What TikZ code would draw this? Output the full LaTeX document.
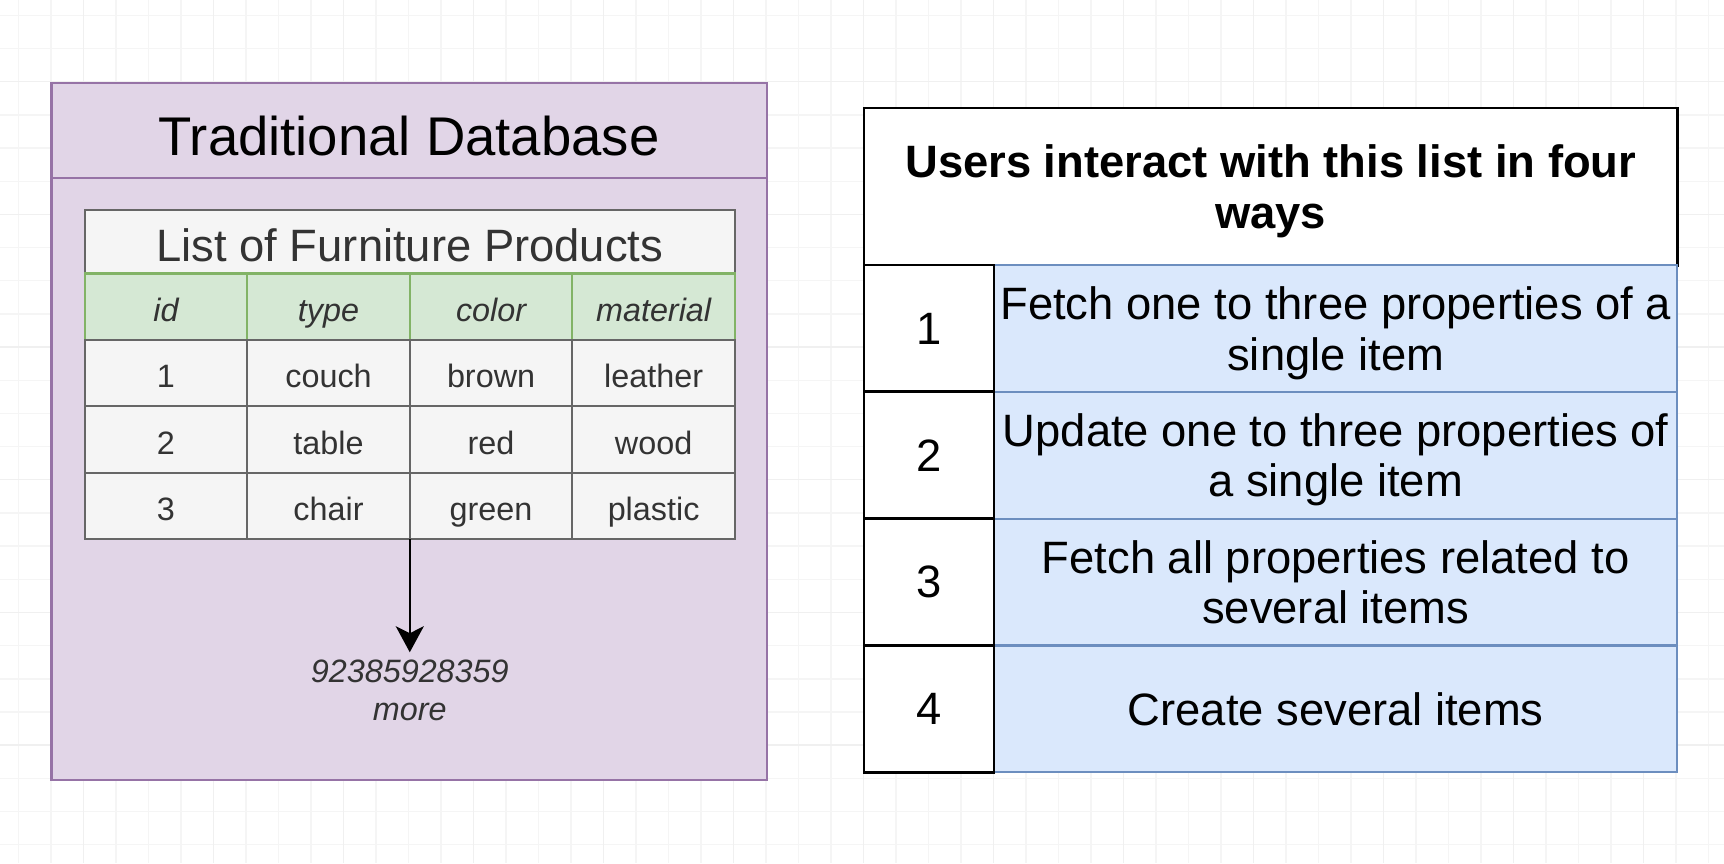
\documentclass[tikz,border=0pt]{standalone}
\usepackage{fontspec}
\setmainfont{Liberation Sans}
\usetikzlibrary{positioning,arrows.meta}
\definecolor{dbfill}{HTML}{E1D5E7}
\definecolor{dbstroke}{HTML}{9673A6}
\definecolor{cellfill}{HTML}{F5F5F5}
\definecolor{cellstroke}{HTML}{666666}
\definecolor{celltext}{HTML}{333333}
\definecolor{headfill}{HTML}{D5E8D4}
\definecolor{headstroke}{HTML}{82B366}
\definecolor{wayfill}{HTML}{DAE8FC}
\definecolor{waystroke}{HTML}{6C8EBF}
\newcommand{\cellfont}{\fontsize{9.2}{10.8}\selectfont}
\newcommand{\wayfont}{\fontsize{12.9}{14.3}\selectfont}
\newcommand{\dbfont}{\fontsize{15.5}{18}\selectfont}
\tikzset{lane/.style={draw=dbstroke,fill=dbfill,line width=0.6pt,
        minimum width=7.147cm,inner sep=0pt,outer sep=0pt},
  cell/.style={draw=cellstroke,fill=cellfill,text=celltext,line width=0.6pt,
        minimum width=1.6245cm,minimum height=0.665cm,inner sep=0pt,
        outer sep=0pt,font=\cellfont,text height=0.34cm,text depth=0.04cm},
  headcell/.style={cell,draw=headstroke,fill=headfill,
        font=\cellfont\itshape,minimum height=0.66cm},
  listcell/.style={cell,minimum width=6.498cm,minimum height=0.635cm,
        font=\wayfont,text height=0.39cm,text depth=0pt},
  numcell/.style={draw=black,fill=white,line width=0.8pt,minimum width=1.3cm,
        minimum height=1.2675cm,inner sep=0pt,outer sep=0pt,font=\wayfont},
  waycell/.style={draw=waystroke,fill=wayfill,line width=0.6pt,
        minimum width=6.83cm,minimum height=1.2675cm,inner sep=0pt,
        outer sep=0pt,font=\wayfont,align=center,text depth=0pt},
  waytitle/.style={numcell,minimum width=8.13cm,minimum height=1.57cm,
        font=\wayfont\bfseries,align=center,text depth=0pt},
  moretext/.style={font=\cellfont\itshape,text=celltext,align=center,
        inner sep=2pt},
  flow/.style={draw=black,line width=0.7pt,
        -{Stealth[length=0.26cm,width=0.28cm,inset=0.07cm]}},
  gridminor/.style={draw=black!4,line width=0.4pt},
  gridmajor/.style={draw=black!6,line width=0.4pt}}

\begin{document}
\begin{tikzpicture}[x=0.01cm,y=-0.01cm]
  \useasboundingbox (0,0) rectangle (1724,863);
  \fill[white] (0,0) rectangle (1724,863);
  %% canvas grid
  \foreach \gx in {0,...,52}
    \draw[gridminor] ({18.3+32.5*\gx},0) -- ++(0,863);
  \foreach \gy in {0,...,25}
    \draw[gridminor] (0,{15.4+33.17*\gy}) -- ++(1724,0);
  \foreach \gx in {2,6,...,50}
    \draw[gridmajor] ({18.3+32.5*\gx},0) -- ++(0,863);
  \foreach \gy in {2,6,...,22}
    \draw[gridmajor] (0,{15.4+33.17*\gy}) -- ++(1724,0);

  %% traditional database container
  \node[lane,minimum height=0.947cm,font=\dbfont,text height=0.5cm,
        text depth=0pt] (dbtitle) at (409.05,130.65) {Traditional Database};
  \node[lane,minimum height=6.016cm,below=0pt of dbtitle] (dbbody) {};

  %% furniture table
  \node[listcell,anchor=north west] (list) at (84.7,210)
       {List of Furniture Products};
  \node[headcell,anchor=north west] (hid) at (list.south west) {id};
  \node[headcell,right=0pt of hid] (htype) {type};
  \node[headcell,right=0pt of htype] (hcolor) {color};
  \node[headcell,right=0pt of hcolor] (hmat) {material};
  %% rows
  \node[cell,below=0pt of hid] (r1c1) {1};
  \node[cell,right=0pt of r1c1] (r1c2) {couch};
  \node[cell,right=0pt of r1c2] (r1c3) {brown};
  \node[cell,right=0pt of r1c3] (r1c4) {leather};
  \node[cell,below=0pt of r1c1] (r2c1) {2};
  \node[cell,right=0pt of r2c1] (r2c2) {table};
  \node[cell,right=0pt of r2c2] (r2c3) {red};
  \node[cell,right=0pt of r2c3] (r2c4) {wood};
  \node[cell,below=0pt of r2c1] (r3c1) {3};
  \node[cell,right=0pt of r3c1] (r3c2) {chair};
  \node[cell,right=0pt of r3c2] (r3c3) {green};
  \node[cell,right=0pt of r3c3] (r3c4) {plastic};

  %% more rows
  \node[moretext,below=1.13cm of r3c2.south east] (more)
       {92385928359\\more};
  \draw[flow] (r3c2.south east) -- (more.north);

  %% ways table
  \node[waytitle,anchor=north west] (ways) at (864,108)
       {Users interact with this list in four\\ways};
  \node[waycell,anchor=north west] (w1) at (994,265)
       {Fetch one to three properties of a\\single item};
  \node[waycell,below=0pt of w1] (w2)
       {Update one to three properties of\\a single item};
  \node[waycell,below=0pt of w2] (w3)
       {Fetch all properties related to\\several items};
  \node[waycell,below=0pt of w3] (w4) {Create several items};
  \node[numcell,left=0pt of w1] (n1) {1};
  \node[numcell,left=0pt of w2] (n2) {2};
  \node[numcell,left=0pt of w3] (n3) {3};
  \node[numcell,left=0pt of w4] (n4) {4};
\end{tikzpicture}
\end{document}
